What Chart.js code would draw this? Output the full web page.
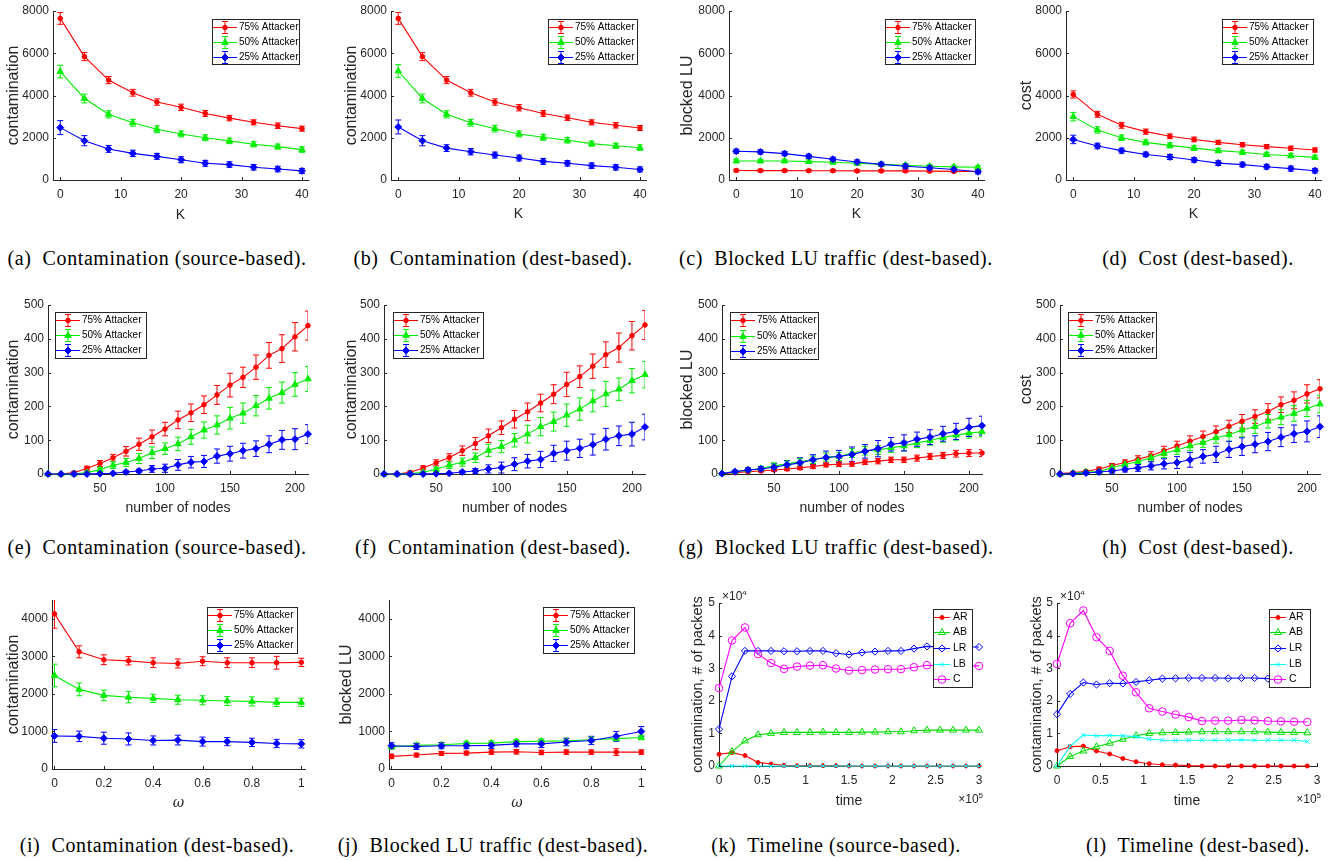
<!DOCTYPE html>
<html>
<head>
<meta charset="utf-8">
<script src="https://cdn.jsdelivr.net/npm/chart.js@4.4.0/dist/chart.umd.min.js"></script>
<style>
  body { margin: 0; background: #fff; width: 1329px; height: 861px; position: relative; overflow: hidden; }
  canvas { position: absolute; }
  .cap { position: absolute; font-family: "Liberation Serif", serif; font-size: 20px; letter-spacing: 0.6px; color: #000;
         white-space: pre; transform: translate(-50%, -50%); }
</style>
</head>
<body>
<script>
// ---- x values ----
const K_VALUES = [0, 4, 8, 12, 16, 20, 24, 28, 32, 36, 40];
const NODE_COUNTS = [10, 20, 30, 40, 50, 60, 70, 80, 90, 100, 110, 120, 130, 140, 150, 160, 170, 180, 190, 200, 210];
const OMEGA_VALUES = [0, 0.1, 0.2, 0.3, 0.4, 0.5, 0.6, 0.7, 0.8, 0.9, 1];
const TIME_SRC = [0, 15000, 30000, 45000, 60000, 75000, 90000, 105000, 120000, 135000, 150000, 165000, 180000, 195000, 210000, 225000, 240000, 255000, 270000, 285000, 300000];
const TIME_DST = [0, 15200, 30400, 45600, 60800, 76000, 91200, 106400, 121600, 136800, 152000, 167200, 182400, 197600, 212800, 228000, 243200, 258400, 273600, 288800];

// ---- tick labels ----
const K_TICKS = [0, 10, 20, 30, 40];
const K_Y_TICKS = [0, 2000, 4000, 6000, 8000];
const NODE_TICKS = [50, 100, 150, 200];
const NODE_Y_TICKS = [0, 100, 200, 300, 400, 500];
const OMEGA_TICKS = [0, 0.2, 0.4, 0.6, 0.8, 1];
const OMEGA_Y_TICKS = [0, 1000, 2000, 3000, 4000];
const TIME_TICKS = [0, 50000, 100000, 150000, 200000, 250000, 300000];
const PACKET_TICKS = [0, 10000, 20000, 30000, 40000, 50000];

// ---- (a) contamination vs K, source-based ----
const srcK75 = [7650, 5840, 4730, 4130, 3690, 3440, 3150, 2930, 2730, 2570, 2430];
const srcK75Err = [280, 190, 170, 160, 150, 150, 140, 130, 120, 130, 120];
const srcK50 = [5130, 3860, 3110, 2710, 2400, 2180, 2000, 1850, 1690, 1580, 1440];
const srcK50Err = [300, 210, 170, 160, 160, 140, 140, 130, 120, 120, 130];
const srcK25 = [2480, 1860, 1470, 1260, 1120, 960, 790, 730, 600, 520, 430];
const srcK25Err = [330, 240, 160, 150, 140, 140, 140, 130, 130, 130, 120];

// ---- (b) contamination vs K, dest-based ----
const dstK75 = [7650, 5840, 4730, 4130, 3690, 3420, 3150, 2950, 2730, 2590, 2460];
const dstK75Err = [280, 190, 170, 160, 150, 150, 140, 130, 120, 130, 120];
const dstK50 = [5160, 3860, 3110, 2710, 2430, 2180, 2020, 1880, 1720, 1620, 1530];
const dstK50Err = [300, 210, 170, 160, 160, 140, 140, 130, 120, 120, 130];
const dstK25 = [2510, 1860, 1510, 1340, 1180, 1040, 880, 790, 680, 600, 500];
const dstK25Err = [330, 240, 160, 150, 140, 140, 140, 130, 130, 130, 120];

// ---- (c) blocked LU vs K ----
const blkK75 = [450, 445, 445, 440, 440, 430, 430, 430, 420, 410, 400];
const blkK75Err = [60, 60, 60, 60, 60, 60, 60, 60, 60, 60, 60];
const blkK50 = [900, 900, 900, 870, 840, 790, 740, 700, 650, 620, 600];
const blkK50Err = [80, 80, 80, 80, 80, 80, 80, 80, 80, 80, 80];
const blkK25 = [1360, 1330, 1250, 1120, 980, 850, 740, 650, 580, 500, 390];
const blkK25Err = [100, 100, 100, 100, 100, 100, 100, 100, 100, 100, 100];

// ---- (d) cost vs K ----
const costK75 = [4050, 3110, 2590, 2290, 2070, 1920, 1780, 1670, 1580, 1500, 1420];
const costK75Err = [170, 140, 140, 120, 110, 110, 100, 100, 100, 100, 100];
const costK50 = [3000, 2370, 2000, 1780, 1640, 1510, 1390, 1310, 1210, 1150, 1070];
const costK50Err = [200, 150, 130, 120, 120, 110, 100, 100, 100, 100, 100];
const costK25 = [1920, 1610, 1390, 1210, 1090, 950, 800, 730, 630, 540, 440];
const costK25Err = [200, 130, 120, 110, 120, 110, 110, 110, 110, 120, 110];

// ---- (e) contamination vs nodes, source-based ----
const srcN75 = [0, 0, 4, 17, 31, 48, 67, 88, 110, 133, 160, 181, 205, 234, 263, 286, 316, 351, 371, 406, 439];
const srcN75Err = [0, 0, 3, 6, 9, 10, 14, 18, 20, 20, 26, 26, 26, 28, 35, 30, 36, 38, 41, 42, 43];
const srcN50 = [0, 0, 0, 4, 13, 26, 34, 46, 63, 75, 89, 110, 130, 145, 165, 180, 202, 224, 241, 265, 281];
const srcN50Err = [0, 0, 0, 3, 6, 10, 12, 15, 17, 17, 20, 22, 24, 27, 32, 30, 30, 32, 31, 35, 37];
const srcN25 = [0, 0, 0, 0, 1, 2, 6, 9, 15, 17, 27, 35, 37, 53, 60, 69, 75, 88, 101, 103, 118];
const srcN25Err = [0, 0, 0, 0, 1, 2, 3, 5, 10, 12, 16, 17, 18, 21, 22, 22, 23, 25, 28, 31, 28];

// ---- (f) contamination vs nodes, dest-based ----
const dstN75 = [0, 0, 5, 18, 33, 49, 69, 90, 113, 137, 162, 184, 210, 236, 265, 288, 319, 353, 374, 409, 441];
const dstN75Err = [0, 0, 3, 6, 9, 11, 14, 18, 20, 20, 26, 26, 26, 28, 36, 32, 36, 38, 43, 42, 43];
const dstN50 = [0, 0, 1, 5, 14, 26, 35, 48, 70, 81, 100, 118, 140, 155, 174, 192, 216, 237, 251, 276, 294];
const dstN50Err = [0, 0, 1, 3, 6, 10, 12, 14, 18, 18, 20, 26, 27, 28, 33, 33, 32, 37, 33, 36, 39];
const dstN25 = [0, 0, 0, 0, 1, 2, 6, 9, 15, 19, 29, 38, 43, 61, 69, 76, 87, 103, 113, 118, 139];
const dstN25Err = [0, 0, 0, 0, 1, 2, 4, 7, 12, 16, 19, 20, 24, 24, 28, 27, 31, 32, 29, 35, 38];

// ---- (g) blocked LU vs nodes ----
const blkN75 = [1, 4, 7, 9, 12, 15, 18, 22, 27, 29, 30, 35, 38, 42, 42, 47, 52, 55, 60, 62, 62];
const blkN75Err = [1, 2, 3, 3, 4, 5, 5, 6, 6, 7, 7, 7, 8, 8, 8, 9, 9, 9, 10, 10, 10];
const blkN50 = [2, 7, 12, 16, 24, 30, 37, 42, 50, 52, 62, 69, 71, 78, 83, 92, 99, 108, 115, 121, 125];
const blkN50Err = [2, 4, 6, 7, 9, 10, 10, 11, 12, 12, 13, 13, 13, 14, 14, 14, 14, 14, 15, 15, 15];
const blkN25 = [1, 7, 12, 15, 20, 27, 33, 42, 49, 52, 58, 67, 75, 88, 92, 103, 109, 119, 126, 138, 143];
const blkN25Err = [1, 4, 6, 7, 10, 12, 15, 15, 19, 18, 22, 20, 24, 20, 24, 21, 22, 22, 24, 27, 28];

// ---- (h) cost vs nodes ----
const costN75 = [1, 4, 8, 15, 25, 34, 44, 54, 69, 83, 97, 111, 125, 141, 156, 170, 185, 205, 218, 237, 252];
const costN75Err = [1, 2, 3, 5, 6, 8, 10, 12, 13, 14, 16, 16, 17, 18, 20, 20, 23, 23, 25, 27, 27];
const costN50 = [0, 3, 6, 7, 19, 28, 37, 48, 61, 71, 83, 93, 107, 116, 130, 140, 156, 168, 179, 194, 207];
const costN50Err = [0, 2, 3, 4, 6, 7, 8, 10, 12, 13, 14, 14, 16, 20, 20, 20, 20, 22, 23, 24, 26];
const costN25 = [0, 1, 3, 6, 9, 14, 18, 24, 30, 34, 42, 52, 58, 73, 81, 88, 96, 109, 119, 126, 140];
const costN25Err = [0, 1, 2, 4, 6, 8, 10, 12, 15, 18, 22, 20, 24, 24, 26, 25, 27, 28, 26, 31, 32];

// ---- (i) contamination vs omega ----
const omgC75 = [4130, 3120, 2910, 2880, 2830, 2810, 2870, 2830, 2830, 2830, 2840];
const omgC75Err = [380, 160, 130, 110, 130, 120, 120, 130, 130, 170, 110];
const omgC50 = [2490, 2120, 1960, 1910, 1880, 1845, 1830, 1810, 1800, 1775, 1775];
const omgC50Err = [300, 170, 140, 150, 110, 120, 120, 120, 120, 110, 110];
const omgC25 = [880, 870, 820, 800, 760, 770, 730, 730, 710, 680, 670];
const omgC25Err = [170, 140, 160, 160, 120, 130, 120, 110, 110, 110, 110];

// ---- (j) blocked LU vs omega ----
const omgB75 = [336, 371, 415, 424, 450, 459, 441, 450, 450, 450, 450];
const omgB75Err = [60, 50, 50, 50, 60, 60, 60, 60, 60, 90, 60];
const omgB50 = [590, 630, 645, 680, 690, 730, 740, 750, 780, 810, 840];
const omgB50Err = [60, 60, 60, 60, 60, 60, 60, 60, 60, 60, 60];
const omgB25 = [620, 600, 620, 620, 630, 670, 670, 720, 760, 870, 1000];
const omgB25Err = [80, 80, 80, 80, 80, 80, 100, 100, 110, 130, 130];

// ---- (k) timeline, source-based ----
const srcAR = [3600, 4100, 3200, 1100, 600, 200, 100, 100, 100, 100, 0, 0, 0, 0, 0, 0, 0, 0, 0, 0, 0];
const srcAB = [0, 4400, 7700, 9600, 10000, 10300, 10300, 10300, 10400, 10300, 10300, 10400, 10400, 10500, 10500, 10800, 11000, 11000, 11000, 11000, 11000];
const srcLR = [11300, 27500, 35300, 35300, 35300, 35200, 35200, 35300, 35300, 34600, 34200, 34800, 35100, 35300, 35300, 36000, 36700, 36500, 36500, 36500, 36500];
const srcLB = [0, 0, 0, 0, 0, 0, 0, 0, 0, 0, 0, 0, 0, 0, 0, 0, 0, 0, 0, 0, 0];
const srcC = [23900, 38500, 42500, 34300, 31600, 29800, 30500, 30800, 30900, 29900, 29300, 29400, 29600, 29700, 29700, 30300, 30900, 30700, 30700, 30700, 30700];

// ---- (l) timeline, dest-based ----
const dstAR = [4700, 5900, 6100, 4600, 3700, 2300, 1300, 700, 400, 300, 100, 0, 0, 0, 0, 0, 0, 0, 0, 0];
const dstAB = [0, 2900, 4600, 5900, 7000, 8200, 9300, 10000, 10200, 10300, 10400, 10500, 10500, 10500, 10500, 10500, 10400, 10300, 10300, 10200];
const dstLR = [15900, 22100, 25600, 25000, 25400, 25300, 25800, 26300, 26800, 26900, 27000, 27000, 27000, 26900, 27000, 27000, 26800, 26700, 26600, 26400];
const dstLB = [0, 6100, 9500, 9300, 9400, 9300, 9000, 8300, 7900, 7800, 7900, 7900, 7900, 7900, 8000, 7900, 7900, 7900, 7900, 7500];
const dstC = [31300, 43800, 47700, 39500, 35300, 27700, 22600, 17700, 16700, 15800, 15000, 13800, 13900, 13900, 14100, 14000, 13800, 13700, 13600, 13500];

const INK = '#262626';
const FONT = '"Liberation Sans", Arial, sans-serif';
Chart.defaults.font.family = FONT;

// draws error bars under the lines, clipped to the axes
const errorBars = {
    id: 'errorBars',
    beforeDatasetsDraw(chart) {
        const { ctx, chartArea: a, scales: { x, y } } = chart;
        ctx.save();
        ctx.beginPath();
        ctx.rect(a.left, a.top, a.right - a.left, a.bottom - a.top);
        ctx.clip();
        chart.data.datasets.forEach(ds => {
            if (!ds.errors) return;
            ctx.strokeStyle = ds.borderColor;
            ctx.lineWidth = 1;
            ds.data.forEach((p, i) => {
                const e = ds.errors[i];
                if (!e) return;
                const px = x.getPixelForValue(p.x);
                const top = y.getPixelForValue(p.y + e);
                const bot = y.getPixelForValue(p.y - e);
                ctx.beginPath();
                ctx.moveTo(px, top); ctx.lineTo(px, bot);
                ctx.moveTo(px - 3, top); ctx.lineTo(px + 3, top);
                ctx.moveTo(px - 3, bot); ctx.lineTo(px + 3, bot);
                ctx.stroke();
            });
        });
        ctx.restore();
    }
};

// matlab-like boxed legend placed over the axes
const boxLegend = {
    id: 'boxLegend',
    afterDraw(chart, args, o) {
        if (!o.box) return;
        const ctx = chart.ctx;
        const [bx, by, bw, bh] = o.box;
        ctx.save();
        ctx.fillStyle = '#fff';
        ctx.fillRect(bx, by, bw, bh);
        ctx.strokeStyle = INK;
        ctx.lineWidth = 1;
        ctx.strokeRect(bx + 0.5, by + 0.5, bw, bh);
        const sets = chart.data.datasets;
        const step = bh / sets.length;
        ctx.font = o.fontSize + 'px ' + FONT;
        ctx.textBaseline = 'middle';
        sets.forEach((ds, i) => {
            const cy = Math.round(by + step * (i + 0.5)) + 0.5;
            const x0 = bx + o.lineFrom, x1 = bx + o.lineTo, mx = (x0 + x1) / 2;
            ctx.strokeStyle = ds.borderColor;
            ctx.lineWidth = 1;
            ctx.beginPath();
            ctx.moveTo(x0, cy); ctx.lineTo(x1, cy);
            if (ds.errors) {
                ctx.moveTo(mx, cy - 6); ctx.lineTo(mx, cy + 6);
                ctx.moveTo(mx - 3, cy - 6); ctx.lineTo(mx + 3, cy - 6);
                ctx.moveTo(mx - 3, cy + 6); ctx.lineTo(mx + 3, cy + 6);
            }
            ctx.stroke();
            ctx.fillStyle = ds.pointBackgroundColor;
            Chart.helpers.drawPoint(ctx, { pointStyle: ds.pointStyle, radius: ds.pointRadius, borderWidth: 1, rotation: 0 }, mx, cy);
            ctx.fillStyle = '#000';
            ctx.fillText(ds.label, bx + o.textX, cy);
        });
        ctx.restore();
    }
};

// inward tick marks and the x10^n factors
const axisExtras = {
    id: 'axisExtras',
    afterDraw(chart, args, o) {
        const { ctx, chartArea: a, scales: { x, y } } = chart;
        ctx.save();
        ctx.strokeStyle = INK;
        ctx.lineWidth = 1;
        ctx.beginPath();
        x.ticks.forEach(t => {
            const px = Math.round(x.getPixelForValue(t.value)) + 0.5;
            ctx.moveTo(px, a.bottom); ctx.lineTo(px, a.bottom - 3);
        });
        y.ticks.forEach(t => {
            const py = Math.round(y.getPixelForValue(t.value)) + 0.5;
            ctx.moveTo(a.left, py); ctx.lineTo(a.left + 3, py);
        });
        ctx.stroke();
        ctx.fillStyle = INK;
        ctx.textBaseline = 'alphabetic';
        const power = (text, sup, px, py, alignRight) => {
            ctx.font = '12px ' + FONT;
            const w1 = ctx.measureText(text).width;
            ctx.font = '8px ' + FONT;
            const w2 = ctx.measureText(sup).width;
            const start = alignRight ? px - w1 - w2 : px;
            ctx.font = '12px ' + FONT;
            ctx.fillText(text, start, py);
            ctx.font = '8px ' + FONT;
            ctx.fillText(sup, start + w1, py - 5);
        };
        if (o.yPower) power('\u00d710', o.yPower, a.left + 3, a.top - 3, false);
        if (o.xPower) power('\u00d710', o.xPower, a.right + 4, a.bottom + 37, true);
        ctx.restore();
    }
};

const ATTACKER_STYLES = [
    { label: '75% Attacker', color: '#ff0000', marker: 'circle', r: 2.3, fill: true },
    { label: '50% Attacker', color: '#00ee00', marker: 'triangle', r: 3.7, fill: true },
    { label: '25% Attacker', color: '#0000ff', marker: 'rectRot', r: 3.5, fill: true }
];
const TIMELINE_STYLES = [
    { label: 'AR', color: '#ff0000', marker: 'circle', r: 2, fill: true },
    { label: 'AB', color: '#00dd00', marker: 'triangle', r: 4, fill: false },
    { label: 'LR', color: '#0000ff', marker: 'rectRot', r: 3.6, fill: false },
    { label: 'LB', color: '#00ffff', marker: 'crossRot', r: 3, fill: false },
    { label: 'C', color: '#ff00ff', marker: 'circle', r: 3.8, fill: false }
];

function makeSets(xs, styles, ys, errs) {
    return styles.map((s, i) => ({
        label: s.label,
        data: xs.map((x, j) => ({ x, y: ys[i][j] })),
        errors: errs ? errs[i] : null,
        showLine: true,
        borderColor: s.color,
        borderWidth: 1.1,
        pointStyle: s.marker,
        pointRadius: s.r,
        pointBorderWidth: 1,
        pointBorderColor: s.color,
        pointBackgroundColor: s.fill ? s.color : 'rgba(0,0,0,0)',
        order: styles.length - i,
        clip: false
    }));
}

function drawPanel(p) {
    const yOff = p.yTitleSize * 0.6;
    const xOff = 14 * 0.6;
    const [L, T, R, B] = p.area;
    const left = Math.round(p.yTitleX - yOff);
    const top = T - 12;
    const right = R + 16;
    const bottom = Math.round(p.xTitleY + xOff + 4);
    const canvas = document.createElement('canvas');
    canvas.width = right - left;
    canvas.height = bottom - top;
    canvas.style.left = left + 'px';
    canvas.style.top = top + 'px';
    document.body.appendChild(canvas);

    const [lx, ly, lw, lh] = p.legend;
    const tickFont = { size: 12, family: FONT };
    new Chart(canvas, {
        type: 'scatter',
        data: { datasets: p.sets },
        plugins: [errorBars, boxLegend, axisExtras],
        options: {
            responsive: false,
            animation: false,
            devicePixelRatio: 1,
            layout: { padding: { top: 12, right: 16, left: 0, bottom: 0 } },
            plugins: {
                legend: { display: false },
                tooltip: { enabled: false },
                boxLegend: {
                    box: [lx - left, ly - top, lw, lh],
                    fontSize: p.legendFont || 10,
                    lineFrom: 1, lineTo: p.legendLine || 25, textX: p.legendText || 27
                },
                axisExtras: { yPower: p.yPower, xPower: p.xPower }
            },
            scales: {
                x: {
                    type: 'linear',
                    min: p.xMin, max: p.xMax,
                    afterBuildTicks: s => { s.ticks = p.xTicks.map(v => ({ value: v })); },
                    afterFit: s => { s.height = bottom - B; },
                    grid: { display: false, drawTicks: false, tickLength: 0 },
                    border: { display: true, color: INK, width: 1 },
                    ticks: { font: tickFont, color: INK, padding: 7, maxRotation: 0, autoSkip: false,
                             callback: p.xFmt || (v => String(v)) },
                    title: { display: true, text: p.xTitle, color: INK, padding: 0,
                             font: { size: 14, family: p.xTitleFamily || FONT, style: p.xTitleStyle || 'normal' } }
                },
                y: {
                    type: 'linear',
                    min: p.yMin, max: p.yMax,
                    afterBuildTicks: s => { s.ticks = p.yTicks.map(v => ({ value: v })); },
                    afterFit: s => { s.width = L - left; },
                    grid: { display: false, drawTicks: false, tickLength: 0 },
                    border: { display: true, color: INK, width: 1 },
                    ticks: { font: tickFont, color: INK, padding: 4, autoSkip: false,
                             callback: p.yFmt || (v => String(v)) },
                    title: { display: true, text: p.yTitle, color: INK, padding: 0,
                             font: { size: p.yTitleSize, family: FONT } }
                }
            }
        }
    });
}

function caption(text, cx, cy) {
    const d = document.createElement('div');
    d.className = 'cap';
    d.textContent = text;
    d.style.left = cx + 'px';
    d.style.top = cy + 'px';
    document.body.appendChild(d);
}

const kAxis = { xMin: -1.2, xMax: 41, yMin: 0, yMax: 8000, xTicks: K_TICKS, yTicks: K_Y_TICKS, xTitle: 'K' };
const nAxis = { xMin: 10, xMax: 210, yMin: 0, yMax: 500, xTicks: NODE_TICKS, yTicks: NODE_Y_TICKS, xTitle: 'number of nodes' };
const wAxis = { xMin: -0.01, xMax: 1.015, yMin: 0, yMax: 4500, xTicks: OMEGA_TICKS, yTicks: OMEGA_Y_TICKS,
                xTitle: '\u03c9', xTitleStyle: 'italic', xTitleFamily: '"DejaVu Serif", serif' };
const tAxis = { xMin: 0, xMax: 300000, yMin: 0, yMax: 50000, xTicks: TIME_TICKS, yTicks: PACKET_TICKS, xTitle: 'time',
                xFmt: v => String(v / 100000), yFmt: v => String(v / 10000), yPower: '4', xPower: '5',
                legendLine: 17, legendText: 20, legendFont: 10.5 };

const PANELS = [
    { ...kAxis, area: [53, 11, 308, 180], yTitleX: 14, yTitleSize: 16, xTitleY: 212, legend: [212, 19, 87, 45], yTitle: 'contamination',
      sets: makeSets(K_VALUES, ATTACKER_STYLES, [srcK75, srcK50, srcK25], [srcK75Err, srcK50Err, srcK25Err]) },
    { ...kAxis, area: [391, 11, 646, 180], yTitleX: 352, yTitleSize: 16, xTitleY: 211, legend: [548, 19, 89, 45], yTitle: 'contamination',
      sets: makeSets(K_VALUES, ATTACKER_STYLES, [dstK75, dstK50, dstK25], [dstK75Err, dstK50Err, dstK25Err]) },
    { ...kAxis, area: [729, 11, 984, 180], yTitleX: 688, yTitleSize: 16, xTitleY: 211, legend: [885, 19, 90, 45], yTitle: 'blocked LU',
      sets: makeSets(K_VALUES, ATTACKER_STYLES, [blkK75, blkK50, blkK25], [blkK75Err, blkK50Err, blkK25Err]) },
    { ...kAxis, area: [1066, 11, 1321, 180], yTitleX: 1027, yTitleSize: 16, xTitleY: 211, legend: [1222, 19, 91, 45], yTitle: 'cost',
      sets: makeSets(K_VALUES, ATTACKER_STYLES, [costK75, costK50, costK25], [costK75Err, costK50Err, costK25Err]) },

    { ...nAxis, area: [48, 305, 308, 474], yTitleX: 14, yTitleSize: 16, xTitleY: 505, legend: [55, 312, 91, 46], yTitle: 'contamination',
      sets: makeSets(NODE_COUNTS, ATTACKER_STYLES, [srcN75, srcN50, srcN25], [srcN75Err, srcN50Err, srcN25Err]) },
    { ...nAxis, area: [384, 305, 645, 474], yTitleX: 352, yTitleSize: 16, xTitleY: 505, legend: [393, 312, 90, 46], yTitle: 'contamination',
      sets: makeSets(NODE_COUNTS, ATTACKER_STYLES, [dstN75, dstN50, dstN25], [dstN75Err, dstN50Err, dstN25Err]) },
    { ...nAxis, area: [722, 305, 982, 474], yTitleX: 688, yTitleSize: 16, xTitleY: 505, legend: [730, 312, 88, 47], yTitle: 'blocked LU',
      sets: makeSets(NODE_COUNTS, ATTACKER_STYLES, [blkN75, blkN50, blkN25], [blkN75Err, blkN50Err, blkN25Err]) },
    { ...nAxis, area: [1060, 305, 1320, 474], yTitleX: 1027, yTitleSize: 16, xTitleY: 505, legend: [1068, 312, 88, 46], yTitle: 'cost',
      sets: makeSets(NODE_COUNTS, ATTACKER_STYLES, [costN75, costN50, costN25], [costN75Err, costN50Err, costN25Err]) },

    { ...wAxis, area: [52, 600, 305, 769], yTitleX: 14, yTitleSize: 16, xTitleY: 800, legend: [207, 607, 90, 46], yTitle: 'contamination',
      sets: makeSets(OMEGA_VALUES, ATTACKER_STYLES, [omgC75, omgC50, omgC25], [omgC75Err, omgC50Err, omgC25Err]) },
    { ...wAxis, area: [389, 600, 645, 769], yTitleX: 347, yTitleSize: 16, xTitleY: 800, legend: [543, 607, 91, 46], yTitle: 'blocked LU',
      sets: makeSets(OMEGA_VALUES, ATTACKER_STYLES, [omgB75, omgB50, omgB25], [omgB75Err, omgB50Err, omgB25Err]) },
    { ...tAxis, area: [719, 603, 979, 766], yTitleX: 698, yTitleSize: 14.5, xTitleY: 798, legend: [933, 609, 39, 78], yTitle: 'contamination, # of packets',
      sets: makeSets(TIME_SRC, TIMELINE_STYLES, [srcAR, srcAB, srcLR, srcLB, srcC]) },
    { ...tAxis, area: [1057, 603, 1317, 766], yTitleX: 1037, yTitleSize: 14.5, xTitleY: 798, legend: [1269, 609, 41, 78], yTitle: 'contamination, # of packets',
      sets: makeSets(TIME_DST, TIMELINE_STYLES, [dstAR, dstAB, dstLR, dstLB, dstC]) }
];

PANELS.forEach(drawPanel);

const CAPTIONS = [
    ['(a)  Contamination (source-based).', 157, 258], ['(b)  Contamination (dest-based).', 493, 258],
    ['(c)  Blocked LU traffic (dest-based).', 836, 258], ['(d)  Cost (dest-based).', 1198, 258],
    ['(e)  Contamination (source-based).', 157, 547], ['(f)  Contamination (dest-based).', 493, 547],
    ['(g)  Blocked LU traffic (dest-based).', 836, 547], ['(h)  Cost (dest-based).', 1198, 547],
    ['(i)  Contamination (dest-based).', 157, 845], ['(j)  Blocked LU traffic (dest-based).', 493, 845],
    ['(k)  Timeline (source-based).', 836, 845], ['(l)  Timeline (dest-based).', 1198, 845]
];
CAPTIONS.forEach(c => caption(...c));
</script>
</body>
</html>
